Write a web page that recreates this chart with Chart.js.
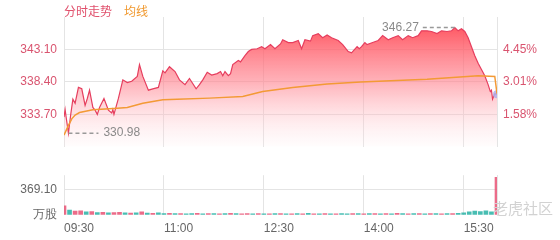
<!DOCTYPE html>
<html>
<head>
<meta charset="utf-8">
<script src="https://cdn.jsdelivr.net/npm/chart.js@4"></script>
<style>
  body { margin: 0; background: #fff; }
  #wrap { position: relative; width: 560px; height: 240px; }
  canvas { position: absolute; left: 0; display: block; }
  #price { top: 0; }
  #volume { top: 161px; }
  .lg { position: absolute; top: 2px; font: 12px "Noto Sans CJK SC", sans-serif; }
  #wm { position: absolute; left: 493px; top: 197px; font: 15px "Noto Sans CJK SC", sans-serif; color: #d2d2d2; }
</style>
</head>
<body>
<div id="wrap">
  <canvas id="price" width="560" height="161"></canvas>
  <canvas id="volume" width="560" height="79"></canvas>
  <span class="lg" style="left:64px;color:#e0506c">分时走势</span>
  <span class="lg" style="left:124px;color:#f0982e">均线</span>
  <span id="wm">老虎社区</span>
</div>
<script>
// minutes since 09:30
const priceTimes = [0,1,2,4,6,8,10,13,16,19,21,23,26,28,30,32,36,40,43,44,45,49,53,57,61,66,68,71,76,80,85,89,91,95,100,104,109,113,119,122,125,129,133,138,141,143,145,148,150,152,157,159,163,166,169,174,178,181,186,190,195,197,202,206,211,214,217,222,224,229,233,237,241,247,251,256,259,264,266,268,271,273,278,283,287,292,296,301,305,310,314,319,322,327,331,336,340,345,349,352,355,358,361,364,367,370,373,376,379,382,384,385,386,388,390];
const prices = [333.3,334.4,333.2,330.98,333.6,335.9,335.3,337.6,337.4,335.0,336.0,337.2,334.7,334.3,333.7,334.7,336.0,334.3,333.9,334.4,333.7,336.0,338.7,338.3,338.5,339.2,340.9,339.2,337.2,337.4,337.6,340.0,339.7,340.6,339.9,338.7,338.0,338.9,337.4,338.0,338.7,339.8,339.4,339.6,339.9,339.3,339.9,339.3,339.6,340.9,341.5,341.3,342.2,342.8,343.1,343.2,343.5,343.2,343.8,343.2,343.9,344.5,344.1,344.1,344.4,343.2,344.5,344.3,345.1,345.4,344.8,345.2,344.8,344.4,343.8,342.8,342.6,343.5,343.2,343.5,344.1,343.8,344.1,344.4,345.1,344.5,344.8,345.1,344.5,345.1,344.8,345.1,345.8,345.8,345.7,345.4,345.8,345.7,345.8,346.27,345.8,346.1,345.7,344.8,343.5,342.2,341.1,340.2,339.3,338.0,337.0,337.2,335.9,336.7,336.6];

const avgTimes = [0,4,7,10,14,26,48,57,71,89,102,131,161,179,206,237,267,327,373,388,390];
const avgValues = [330.7,332.1,333.05,333.6,333.96,334.35,334.6,334.7,335.3,335.8,335.9,336.05,336.3,337.0,337.6,338.1,338.4,338.8,339.3,339.2,336.7];

const volTimes = [0,5,10,15,20,25,30,35,40,45,50,55,60,65,70,75,80,85,90,95,100,105,110,115,120,125,130,135,140,145,150,155,160,165,170,175,180,185,190,195,200,205,210,215,220,225,230,235,240,245,250,255,260,265,270,275,280,285,290,295,300,305,310,315,320,325,330,335,340,345,350,355,360,365,370,375,380,385,390];
const volumes = [130,70,55,60,45,50,35,40,30,35,38,30,28,32,45,28,25,30,22,25,20,22,18,20,25,18,20,22,18,20,24,20,18,22,18,20,16,18,20,22,18,16,20,18,25,18,16,20,18,16,20,18,22,20,18,20,22,18,20,18,24,20,18,20,22,18,20,22,18,20,22,25,30,45,55,50,60,45,540];
const volDir = [1,-1,1,1,-1,1,-1,1,-1,1,1,-1,1,-1,1,-1,1,-1,-1,1,-1,1,-1,-1,1,-1,1,-1,1,-1,1,-1,1,1,-1,1,-1,1,-1,1,-1,1,-1,1,-1,1,-1,1,-1,1,-1,-1,1,-1,1,-1,1,-1,1,-1,1,-1,1,-1,1,-1,1,-1,1,-1,1,-1,-1,-1,-1,-1,-1,-1,1];

const tickMinutes = [0,90,180,270,360];
const tickLabels = ['09:30','11:00','12:30','14:00','15:30'];
const priceTicks = [333.7,338.4,343.1];
const pctLabels = ['1.58%','3.01%','4.45%'];
const volTicks = [0,369.1];

const GRID = '#e4e4e4';
const FONT = '"Liberation Sans", Arial, sans-serif';

const extremes = {
  id: 'extremes',
  afterDatasetsDraw(chart) {
    const ctx = chart.ctx, x = chart.scales.x, y = chart.scales.y;
    const hi = prices.indexOf(Math.max(...prices));
    const lo = prices.indexOf(Math.min(...prices));
    ctx.save();
    ctx.font = '12px ' + FONT;
    ctx.textBaseline = 'middle';
    [hi, lo].forEach(i => {
      const px = x.getPixelForValue(priceTimes[i]);
      const py = y.getPixelForValue(prices[i]);
      const left = px > (chart.chartArea.left + chart.chartArea.right) / 2;
      const end = left ? px - 32 : px + 30;
      ctx.strokeStyle = '#999';
      ctx.lineWidth = 1.5;
      ctx.setLineDash([4, 3]);
      ctx.beginPath();
      ctx.moveTo(px, py);
      ctx.lineTo(end, py);
      ctx.stroke();
      ctx.fillStyle = '#8a8a8a';
      ctx.textAlign = left ? 'right' : 'left';
      ctx.fillText(prices[i].toFixed(2), left ? end - 4 : end + 5, py);
    });
    ctx.restore();
  }
};

function priceFill(context) {
  const chart = context.chart;
  const s = chart.scales.y;
  if (!s || !chart.chartArea) return 'rgba(255,90,100,0.5)';
  const g = chart.ctx.createLinearGradient(0, s.top, 0, s.bottom);
  g.addColorStop(0, 'rgba(255,60,72,0.95)');
  g.addColorStop(0.5, 'rgba(255,130,142,0.62)');
  g.addColorStop(1, 'rgba(255,235,238,0.15)');
  return g;
}

const fitLeft = s => { s.width = 64; };
const fitRight = s => { s.width = 63; };

const timeAxis = showLabels => ({
  type: 'linear', min: 0, max: 390,
  offset: false,
  afterBuildTicks: s => { s.ticks = tickMinutes.map(v => ({ value: v })); },
  afterFit: s => { s.height = showLabels ? 25 : 0; },
  ticks: {
    display: showLabels,
    align: 'start', padding: 6, color: '#666', maxRotation: 0, autoSkip: false,
    font: { size: 12, family: FONT },
    callback: v => tickLabels[tickMinutes.indexOf(v)]
  },
  grid: { color: GRID, drawTicks: false, offset: false },
  border: { display: false }
});

new Chart(document.getElementById('price'), {
  data: {
    datasets: [
      {
        type: 'line',
        label: '均线',
        data: avgTimes.map((t, i) => ({ x: t, y: avgValues[i] })),
        borderColor: '#f39a35',
        borderWidth: 1.5,
        pointRadius: 0,
        fill: false,
        tension: 0
      },
      {
        type: 'line',
        label: '分时走势',
        data: priceTimes.map((t, i) => ({ x: t, y: prices[i] })),
        borderColor: '#e63e5e',
        borderWidth: 1.2,
        backgroundColor: priceFill,
        fill: 'start',
        tension: 0,
        pointRadius: c => c.dataIndex === prices.length - 1 ? 4 : 0,
        pointBackgroundColor: 'rgba(175,175,235,0.85)',
        pointBorderWidth: 0
      }
    ]
  },
  options: {
    responsive: false,
    animation: false,
    layout: { padding: { top: 17, left: 0, right: 0, bottom: 0 } },
    plugins: { legend: { display: false }, tooltip: { enabled: false } },
    scales: {
      x: timeAxis(false),
      y: {
        position: 'left',
        min: 329.0, max: 347.8,
        afterBuildTicks: s => { s.ticks = priceTicks.map(v => ({ value: v })); },
        afterFit: fitLeft,
        ticks: { color: '#d9546f', padding: 7, font: { size: 12, family: FONT }, callback: v => v.toFixed(2) },
        grid: { color: GRID, drawTicks: false },
        border: { display: false }
      },
      pct: {
        position: 'right',
        min: 329.0, max: 347.8,
        afterBuildTicks: s => { s.ticks = priceTicks.map(v => ({ value: v })); },
        afterFit: fitRight,
        ticks: { color: '#d9546f', padding: 6, font: { size: 12, family: FONT }, callback: v => pctLabels[priceTicks.indexOf(v)] },
        grid: { display: false, drawTicks: false },
        border: { display: true, color: GRID }
      }
    }
  },
  plugins: [extremes]
});

new Chart(document.getElementById('volume'), {
  type: 'bar',
  data: {
    datasets: [{
      label: '成交量',
      data: volTimes.map((t, i) => ({ x: t, y: volumes[i] })),
      backgroundColor: volDir.map(d => d > 0 ? 'rgba(232,82,116,0.85)' : 'rgba(40,178,165,0.85)'),
      barThickness: 4
    }]
  },
  options: {
    responsive: false,
    animation: false,
    layout: { padding: 0 },
    plugins: { legend: { display: false }, tooltip: { enabled: false } },
    scales: {
      x: timeAxis(true),
      y: {
        position: 'left',
        min: 0, max: 570,
        afterBuildTicks: s => { s.ticks = volTicks.map(v => ({ value: v })); },
        afterFit: fitLeft,
        ticks: { color: '#666', padding: 7, font: { size: 12, family: FONT }, callback: v => v === 0 ? '万股' : v.toFixed(2) },
        grid: { color: c => c.tick && c.tick.value === 0 ? 'rgba(0,0,0,0)' : GRID, drawTicks: false },
        border: { display: false }
      },
      y2: {
        position: 'right',
        min: 0, max: 570,
        afterFit: fitRight,
        ticks: { display: false },
        grid: { display: false, drawTicks: false },
        border: { display: true, color: GRID }
      }
    }
  }
});
</script>
</body>
</html>
